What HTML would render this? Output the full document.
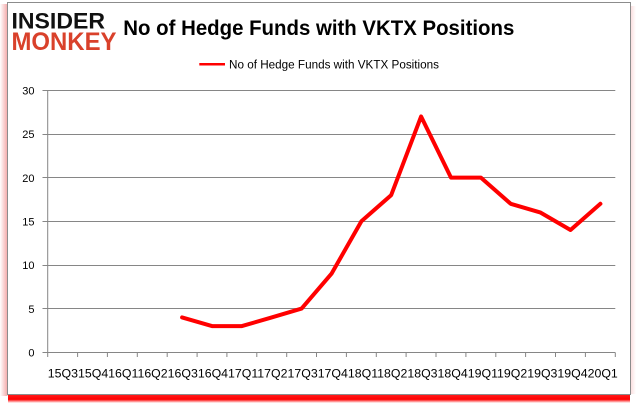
<!DOCTYPE html>
<html><head><meta charset="utf-8"><style>
html,body{margin:0;padding:0;background:#fff;}
svg{display:block;}
</style></head><body>
<svg width="637" height="408" viewBox="0 0 637 408" xmlns="http://www.w3.org/2000/svg" font-family="'Liberation Sans', sans-serif">
<defs>
<linearGradient id="lg" x1="0" y1="0" x2="1" y2="0">
<stop offset="0" stop-color="#ffffff"/><stop offset="1" stop-color="#f4a8a8"/>
</linearGradient>
<linearGradient id="rg" x1="0" y1="0" x2="1" y2="0">
<stop offset="0" stop-color="#fbe0e0"/><stop offset="1" stop-color="#ffffff"/>
</linearGradient>
<linearGradient id="bg" x1="0" y1="0" x2="0" y2="1">
<stop offset="0" stop-color="#ff1a1a"/><stop offset="0.55" stop-color="#ff0000"/><stop offset="1" stop-color="#ffffff"/>
</linearGradient>
</defs>
<rect x="0" y="0" width="637" height="408" fill="#fff"/>
<rect x="0" y="4" width="7.5" height="392" fill="url(#lg)"/>
<rect x="631" y="6" width="5" height="388" fill="url(#rg)"/>
<rect x="8" y="395" width="622" height="8" fill="url(#bg)"/>
<rect x="7.5" y="2.5" width="623" height="392" fill="#fff" stroke="#8c8c8c" stroke-width="1"/>

<!-- logo -->
<text x="11.5" y="28.3" font-size="22" font-weight="bold" fill="#111" textLength="93.5" lengthAdjust="spacingAndGlyphs">INSIDER</text>
<text x="11.5" y="50" font-size="25" font-weight="bold" fill="#d9412b" textLength="105" lengthAdjust="spacingAndGlyphs">MONKEY</text>

<!-- title -->
<text x="123.3" y="35" font-size="21" font-weight="bold" fill="#000" textLength="391" lengthAdjust="spacingAndGlyphs">No of Hedge Funds with VKTX Positions</text>

<!-- legend -->
<line x1="199.3" y1="64.3" x2="225" y2="64.3" stroke="#ff0000" stroke-width="2.5"/>
<text x="229" y="68.5" font-size="11.5" fill="#000" textLength="210" lengthAdjust="spacingAndGlyphs">No of Hedge Funds with VKTX Positions</text>

<!-- gridlines -->
<g stroke="#868686" stroke-width="1">
<line x1="42.5" y1="90.5" x2="615.3" y2="90.5"/>
<line x1="42.5" y1="134.5" x2="615.3" y2="134.5"/>
<line x1="42.5" y1="177.5" x2="615.3" y2="177.5"/>
<line x1="42.5" y1="221.5" x2="615.3" y2="221.5"/>
<line x1="42.5" y1="265.5" x2="615.3" y2="265.5"/>
<line x1="42.5" y1="308.5" x2="615.3" y2="308.5"/>
<line x1="42.5" y1="352.5" x2="615.3" y2="352.5"/>
<line x1="47.7" y1="90.5" x2="47.7" y2="357"/>
</g>
<!-- x ticks -->
<g stroke="#868686" stroke-width="1">
<line x1="77.6" y1="352.5" x2="77.6" y2="357"/>
<line x1="107.4" y1="352.5" x2="107.4" y2="357"/>
<line x1="137.3" y1="352.5" x2="137.3" y2="357"/>
<line x1="167.2" y1="352.5" x2="167.2" y2="357"/>
<line x1="197.1" y1="352.5" x2="197.1" y2="357"/>
<line x1="226.9" y1="352.5" x2="226.9" y2="357"/>
<line x1="256.8" y1="352.5" x2="256.8" y2="357"/>
<line x1="286.7" y1="352.5" x2="286.7" y2="357"/>
<line x1="316.5" y1="352.5" x2="316.5" y2="357"/>
<line x1="346.4" y1="352.5" x2="346.4" y2="357"/>
<line x1="376.3" y1="352.5" x2="376.3" y2="357"/>
<line x1="406.1" y1="352.5" x2="406.1" y2="357"/>
<line x1="436.0" y1="352.5" x2="436.0" y2="357"/>
<line x1="465.9" y1="352.5" x2="465.9" y2="357"/>
<line x1="495.8" y1="352.5" x2="495.8" y2="357"/>
<line x1="525.6" y1="352.5" x2="525.6" y2="357"/>
<line x1="555.5" y1="352.5" x2="555.5" y2="357"/>
<line x1="585.4" y1="352.5" x2="585.4" y2="357"/>
<line x1="615.3" y1="352.5" x2="615.3" y2="357"/>
</g>

<!-- y labels -->
<g font-size="11" fill="#000" text-anchor="end">
<text x="34.5" y="94.5">30</text>
<text x="34.5" y="138.2">25</text>
<text x="34.5" y="181.9">20</text>
<text x="34.5" y="225.5">15</text>
<text x="34.5" y="269.2">10</text>
<text x="34.5" y="312.9">5</text>
<text x="34.5" y="356.5">0</text>
</g>

<!-- x labels -->
<text x="47.8" y="377.5" font-size="11.5" fill="#000" textLength="570" lengthAdjust="spacingAndGlyphs">15Q315Q416Q116Q216Q316Q417Q117Q217Q317Q418Q118Q218Q318Q419Q119Q219Q319Q420Q1</text>

<!-- series -->
<polyline fill="none" stroke="#ff0000" stroke-width="4" stroke-linejoin="round" stroke-linecap="round"
points="182.1,317.4 212.0,326.1 241.9,326.1 271.7,317.4 301.6,308.6 331.5,273.7 361.4,221.3 391.2,195.1 421.1,116.5 451.0,177.6 480.9,177.6 510.7,203.8 540.6,212.6 570.5,230.0 600.4,203.8"/>
</svg>
</body></html>
